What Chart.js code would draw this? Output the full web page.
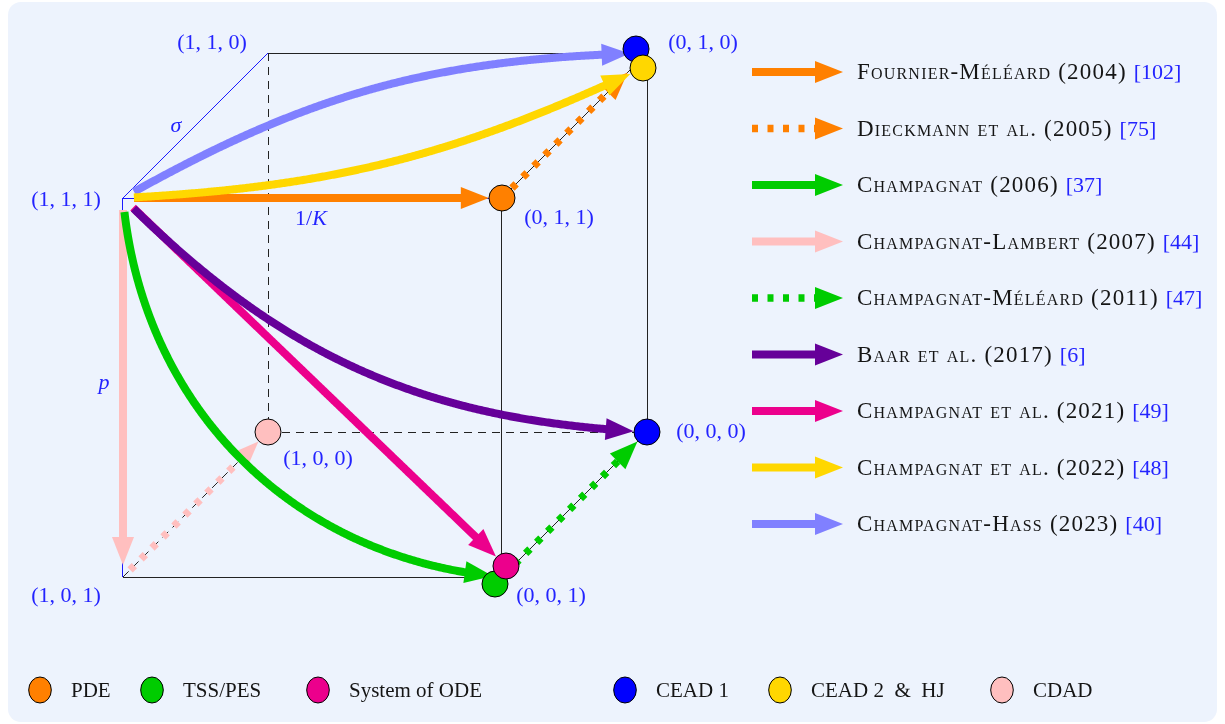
<!DOCTYPE html>
<html>
<head>
<meta charset="utf-8">
<script src="https://cdn.jsdelivr.net/npm/chart.js@4.4.1/dist/chart.umd.min.js"></script>
<style>
  html, body { margin: 0; padding: 0; background: #fff; }
  canvas { display: block; }
</style>
</head>
<body>
<canvas id="cube" width="1225" height="724"></canvas>
<script>
// node types and the cube vertices (a, b, c) where they sit
const nodeTypes = ['PDE', 'TSS/PES', 'System of ODE', 'CEAD 1', 'CEAD 2  &  HJ', 'CDAD'];
const nodeVertices = [
    [[0, 1, 1]],
    [[0, 0, 1]],
    [[0, 0, 1]],
    [[0, 1, 0], [0, 0, 0]],
    [[0, 1, 0]],
    [[1, 0, 0]]
];

// papers shown as arrows
const papers = [
    'Fournier-Méléard (2004)',
    'Dieckmann et al. (2005)',
    'Champagnat (2006)',
    'Champagnat-Lambert (2007)',
    'Champagnat-Méléard (2011)',
    'Baar et al. (2017)',
    'Champagnat et al. (2021)',
    'Champagnat et al. (2022)',
    'Champagnat-Hass (2023)'
];
const citations = ['[102]', '[75]', '[37]', '[44]', '[47]', '[6]', '[49]', '[48]', '[40]'];

// arrows: paper index, start vertex, end vertex, node type the arrow points at
const arrowPaper = [0, 1, 2, 3, 3, 4, 5, 6, 7, 8];
const arrowFrom = [[1,1,1], [0,1,1], [1,1,1], [1,1,1], [1,0,1], [0,0,1], [1,1,1], [1,1,1], [1,1,1], [1,1,1]];
const arrowTo   = [[0,1,1], [0,1,0], [0,0,1], [1,0,1], [1,0,0], [0,0,0], [0,0,0], [0,0,1], [0,1,0], [0,1,0]];
const arrowTarget = ['PDE', null, null, null, 'CDAD', 'CEAD 1', 'CEAD 1', 'System of ODE', 'CEAD 2  &  HJ', null];

// cube edges
const edgeFrom = [[1,1,1], [1,1,1], [1,1,1], [1,1,0], [1,1,0], [0,1,0], [0,1,0], [0,1,1], [1,0,1], [1,0,1], [1,0,0], [0,0,1]];
const edgeTo   = [[1,1,0], [0,1,1], [1,0,1], [0,1,0], [1,0,0], [0,0,0], [0,1,1], [0,0,1], [0,0,1], [1,0,0], [0,0,0], [0,0,0]];
const edgeKind = ['blue', 'blue', 'blue', 'solid', 'dashed', 'solid', 'solid', 'solid', 'solid', 'dashed', 'dashed', 'solid'];

// parameter names on the three edges leaving (1,1,1)
const paramNames = ['σ', '1/K', 'p'];

// ---- styles ----
const BLUE_TEXT = '#2323ff';
const SERIF = '"Liberation Serif", "DejaVu Serif", serif';
const nodeColors = ['#ff8000', '#00cc00', '#ec008c', '#0000ff', '#ffd700', '#ffbfbf'];
const nodeOrder = [1, 1, 0, 1, 0, 1];
const NODE_NUDGE = {
    'TSS/PES|0,0,1': [-7, 7],
    'System of ODE|0,0,1': [4, -11],
    'CEAD 1|0,1,0': [-11, -4],
    'CEAD 2  &  HJ|0,1,0': [-4, 15]
};
const paperColors = ['#ff8000', '#ff8000', '#00cc00', '#ffbfbf', '#00cc00', '#660099', '#ec008c', '#ffd700', '#8080ff'];
const paperDotted = [false, true, false, false, true, false, false, false, false];
const arrowDotted = [false, true, false, false, true, true, false, false, false, false];
const arrowBend = [0, 0, -40, 0, 0, 0, -21, 0, -11, 14];
const arrowShortStart = [10, 14, 13, 12, 10, 18, 14, 13, 10, 12];
const arrowShortEnd = [13, 27, 9, 12, 13, 13, 13, 13, 13, 17];
const drawOrder = [3, 4, 1, 5, 0, 2, 7, 6, 9, 8];
const HEAD_LEN = 28, HEAD_W = 11;

// oblique projection of the cube, 1 unit = 379 px
const DEPTH = 0.3826;
const PX_PER_UNIT = 379;

function project(t, nudge) {
    let u = (1 - t[0]) - DEPTH * t[2];
    let v = t[1] - DEPTH * t[2];
    if (nudge) {
        u += nudge[0] / PX_PER_UNIT;
        v -= nudge[1] / PX_PER_UNIT;
    }
    return { x: u, y: v };
}

function nudgeFor(type, t) {
    return type ? NODE_NUDGE[type + '|' + t.join(',')] : null;
}

function vertexLabel(t) {
    return '(' + t.join(', ') + ')';
}

function toPx(chart, t, nudge) {
    const p = project(t, nudge);
    return { x: chart.scales.x.getPixelForValue(p.x), y: chart.scales.y.getPixelForValue(p.y) };
}

function drawArrow(ctx, P0, P1, bend, s0, s1, color, dotted) {
    const dx = P1.x - P0.x, dy = P1.y - P0.y;
    const L = Math.hypot(dx, dy);
    const phi = Math.atan2(-dy, dx);
    const th = bend * Math.PI / 180;
    const d = 0.3915 * L;
    const c1 = { x: P0.x + d * Math.cos(phi + th), y: P0.y - d * Math.sin(phi + th) };
    const c2 = { x: P1.x - d * Math.cos(phi - th), y: P1.y + d * Math.sin(phi - th) };

    const pts = [];
    const N = 400;
    for (let i = 0; i <= N; i++) {
        const t = i / N, m = 1 - t;
        const p = {
            x: m * m * m * P0.x + 3 * m * m * t * c1.x + 3 * m * t * t * c2.x + t * t * t * P1.x,
            y: m * m * m * P0.y + 3 * m * m * t * c1.y + 3 * m * t * t * c2.y + t * t * t * P1.y
        };
        if (Math.hypot(p.x - P0.x, p.y - P0.y) >= s0 && Math.hypot(p.x - P1.x, p.y - P1.y) >= s1) {
            pts.push(p);
        }
    }
    if (pts.length < 2) return;

    const tip = pts[pts.length - 1];
    let k = pts.length - 1;
    while (k > 0 && Math.hypot(tip.x - pts[k].x, tip.y - pts[k].y) < HEAD_LEN) k--;
    let ux = tip.x - pts[k].x, uy = tip.y - pts[k].y;
    const n = Math.hypot(ux, uy) || 1;
    ux /= n; uy /= n;
    const base = { x: tip.x - ux * HEAD_LEN, y: tip.y - uy * HEAD_LEN };

    ctx.save();
    ctx.strokeStyle = color;
    ctx.fillStyle = color;
    ctx.lineCap = 'butt';
    ctx.lineJoin = 'round';
    if (dotted) {
        ctx.lineWidth = 7.5;
        ctx.setLineDash([6, 9.5]);
    } else {
        ctx.lineWidth = 8;
    }
    ctx.beginPath();
    ctx.moveTo(pts[0].x, pts[0].y);
    for (let i = 1; i <= k; i++) ctx.lineTo(pts[i].x, pts[i].y);
    ctx.lineTo(base.x + ux, base.y + uy);
    ctx.stroke();
    ctx.setLineDash([]);

    ctx.beginPath();
    ctx.moveTo(tip.x, tip.y);
    ctx.lineTo(base.x - uy * HEAD_W, base.y + ux * HEAD_W);
    ctx.lineTo(base.x + uy * HEAD_W, base.y - ux * HEAD_W);
    ctx.closePath();
    ctx.fill();
    ctx.restore();
}

// label placement around each vertex (px offsets of the text centre)
const LABEL_OFFSET = {
    '1,1,0': [-56, -10], '0,1,0': [56, -10], '1,1,1': [-57, 2], '0,1,1': [57, 20],
    '1,0,0': [50, 27], '0,0,0': [64, 0], '1,0,1': [-57, 19], '0,0,1': [49, 19]
};
const PARAM_POS = [[176, 127], [311, 218], [104, 384]];
const LEGEND_ROW0 = 72, LEGEND_STEP = 56.5;
const BOTTOM_X = [40, 152, 318, 625, 780, 1002];
const BOTTOM_Y = 690;

function snap(v) {
    return Math.round(v - 0.5) + 0.5;
}

const diagramPlugin = {
    id: 'cubeDiagram',
    beforeDraw(chart) {
        const ctx = chart.ctx;
        ctx.save();
        ctx.fillStyle = '#ffffff';
        ctx.fillRect(0, 0, chart.width, chart.height);
        ctx.fillStyle = '#edf3fd';
        ctx.beginPath();
        ctx.roundRect(8, 2, 1209, 720, 13);
        ctx.fill();
        ctx.restore();
    },
    beforeDatasetsDraw(chart) {
        const ctx = chart.ctx;
        ctx.save();
        // cube edges
        edgeFrom.forEach((from, i) => {
            const a = toPx(chart, from), b = toPx(chart, edgeTo[i]);
            if (Math.abs(a.x - b.x) < 0.5) { a.x = b.x = snap(a.x); }
            if (Math.abs(a.y - b.y) < 0.5) { a.y = b.y = snap(a.y); }
            ctx.beginPath();
            ctx.lineWidth = 1;
            if (edgeKind[i] === 'blue') {
                ctx.strokeStyle = '#1a1aff';
                ctx.setLineDash([]);
            } else if (edgeKind[i] === 'dashed') {
                ctx.strokeStyle = '#222';
                ctx.setLineDash([8, 6]);
            } else {
                ctx.strokeStyle = '#222';
                ctx.setLineDash([]);
            }
            ctx.moveTo(a.x, a.y);
            ctx.lineTo(b.x, b.y);
            ctx.stroke();
        });
        ctx.setLineDash([]);
        ctx.restore();

        // arrows
        drawOrder.forEach(i => {
            const P0 = toPx(chart, arrowFrom[i]);
            const P1 = toPx(chart, arrowTo[i], nudgeFor(arrowTarget[i], arrowTo[i]));
            drawArrow(ctx, P0, P1, arrowBend[i], arrowShortStart[i], arrowShortEnd[i], paperColors[arrowPaper[i]], arrowDotted[i]);
        });
    },
    afterDatasetsDraw(chart) {
        const ctx = chart.ctx;
        ctx.save();
        ctx.textBaseline = 'alphabetic';

        // vertex labels
        ctx.fillStyle = BLUE_TEXT;
        ctx.font = '22px ' + SERIF;
        ctx.textAlign = 'center';
        Object.keys(LABEL_OFFSET).forEach(key => {
            const t = key.split(',').map(Number);
            const p = toPx(chart, t);
            const off = LABEL_OFFSET[key];
            ctx.fillText(vertexLabel(t), p.x + off[0], p.y + off[1] + 6);
        });

        // parameter names
        ctx.font = 'italic 22px ' + SERIF;
        ctx.fillText(paramNames[0], PARAM_POS[0][0], PARAM_POS[0][1] + 5);
        ctx.fillText(paramNames[2], PARAM_POS[2][0], PARAM_POS[2][1] + 5);
        ctx.textAlign = 'left';
        ctx.font = '22px ' + SERIF;
        const w1 = ctx.measureText('1/').width;
        ctx.font = 'italic 22px ' + SERIF;
        const wK = ctx.measureText('K').width;
        const x0 = PARAM_POS[1][0] - (w1 + wK) / 2;
        ctx.font = '22px ' + SERIF;
        ctx.fillText('1/', x0, PARAM_POS[1][1] + 7);
        ctx.font = 'italic 22px ' + SERIF;
        ctx.fillText('K', x0 + w1, PARAM_POS[1][1] + 7);

        // paper legend (right)
        papers.forEach((name, i) => {
            const y = LEGEND_ROW0 + i * LEGEND_STEP;
            drawArrow(ctx, { x: 752, y: y }, { x: 843, y: y }, 0, 0, 0, paperColors[i], paperDotted[i]);
            ctx.textAlign = 'left';
            ctx.fillStyle = '#151515';
            ctx.font = 'small-caps 23px ' + SERIF;
            ctx.letterSpacing = '1.2px';
            ctx.fillText(name, 857, y + 7);
            const w = ctx.measureText(name + ' ').width;
            ctx.letterSpacing = '0px';
            ctx.font = '22px ' + SERIF;
            ctx.fillStyle = BLUE_TEXT;
            ctx.fillText(citations[i], 857 + w, y + 7);
        });

        // node legend (bottom)
        nodeTypes.forEach((name, i) => {
            const cx = BOTTOM_X[i];
            ctx.beginPath();
            ctx.ellipse(cx, BOTTOM_Y, 11.3, 13, 0, 0, Math.PI * 2);
            ctx.fillStyle = nodeColors[i];
            ctx.fill();
            ctx.lineWidth = 1;
            ctx.strokeStyle = '#000';
            ctx.stroke();
            ctx.fillStyle = '#151515';
            ctx.font = '21px ' + SERIF;
            ctx.textAlign = 'left';
            ctx.fillText(name.replace(/ /g, '\u00a0'), cx + 31, BOTTOM_Y + 7);
        });
        ctx.restore();
    }
};

const datasets = nodeTypes.map((name, i) => ({
    label: name,
    data: nodeVertices[i].map(t => project(t, nudgeFor(name, t))),
    backgroundColor: nodeColors[i],
    borderColor: '#000000',
    borderWidth: 1,
    pointRadius: 13,
    pointHoverRadius: 13,
    order: nodeOrder[i]
}));

new Chart(document.getElementById('cube'), {
    type: 'scatter',
    data: { datasets: datasets },
    options: {
        responsive: false,
        devicePixelRatio: 1,
        animation: false,
        events: [],
        layout: { padding: 0, autoPadding: false },
        plugins: {
            legend: { display: false },
            tooltip: { enabled: false }
        },
        scales: {
            x: { type: 'linear', display: false, min: -268 / PX_PER_UNIT, max: (1225 - 268) / PX_PER_UNIT },
            y: { type: 'linear', display: false, min: -(724 - 432) / PX_PER_UNIT, max: 432 / PX_PER_UNIT }
        }
    },
    plugins: [diagramPlugin]
});
</script>
</body>
</html>
